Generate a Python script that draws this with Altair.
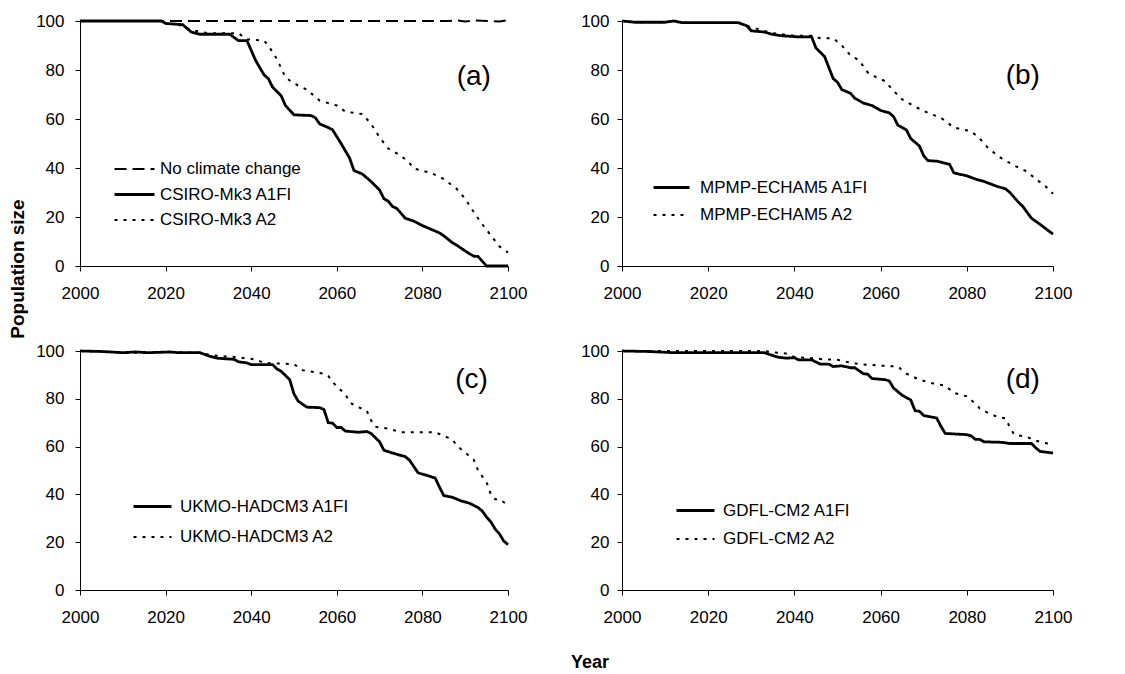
import altair as alt
import pandas as pd

FONT = "Liberation Sans"

X_TICKS = [2000, 2020, 2040, 2060, 2080, 2100]
Y_TICKS = [0, 20, 40, 60, 80, 100]

# ---------------- Panel (a) ----------------
a_none_years = [2000, 2020, 2040, 2060, 2080, 2086, 2088, 2090, 2092, 2096, 2098, 2100]
a_none_vals = [100, 100, 100, 100, 100, 100, 100.3, 99.8, 100.2, 99.9, 99.8, 100.3]

a_a1fi_years = [2000, 2019, 2020, 2024, 2026, 2028, 2035, 2037, 2039, 2041,
                2043, 2044, 2045, 2047, 2048, 2050, 2054, 2055, 2056, 2058,
                2059, 2061, 2063, 2064, 2066, 2068, 2070, 2071, 2072, 2073,
                2074, 2076, 2078, 2080, 2082, 2084, 2085, 2087, 2088, 2089,
                2091, 2092, 2093, 2095, 2100]
a_a1fi_vals = [100, 100, 99, 98.5, 95.5, 94.6, 94.6, 92, 92, 84,
               78, 76.5, 73, 69.5, 65.5, 61.7, 61.4, 60.5, 58, 56.5,
               55.6, 50, 44, 39, 37.5, 34.5, 31, 27.5, 26.5, 24.3,
               23.5, 19.5, 18.3, 16.5, 15, 13.5, 12.3, 9.5, 8.5, 7.3,
               5, 4, 3.9, 0, 0]

a_a2_years = [2000, 2019, 2020, 2023, 2025, 2027, 2030, 2037, 2039, 2043,
              2044, 2046, 2048, 2050, 2053, 2056, 2060, 2062, 2066, 2068,
              2070, 2072, 2075, 2077, 2078, 2082, 2085, 2088, 2090, 2092,
              2094, 2096, 2098, 2100]
a_a2_vals = [100, 100, 99, 98.5, 97, 96, 95, 95, 92.5, 92,
             90, 84.5, 77, 74.5, 72, 67.5, 65.5, 63, 62, 58,
             52.5, 48, 45, 42, 39.8, 38, 35.5, 31.5, 27.5, 22,
             17, 12.5, 8, 5.5]

# ---------------- Panel (b) ----------------
b_a1fi_years = [2000, 2003, 2010, 2012, 2014, 2027, 2029, 2030, 2033, 2035,
                2037, 2041, 2044, 2045, 2047, 2048, 2049, 2050, 2051, 2053,
                2054, 2056, 2058, 2060, 2062, 2063, 2064, 2066, 2067, 2069,
                2070, 2071, 2073, 2076, 2077, 2080, 2082, 2084, 2087, 2089,
                2090, 2092, 2093, 2095, 2097, 2100]
b_a1fi_vals = [100, 99.5, 99.5, 100, 99.3, 99.3, 98, 96, 95.5, 94.5,
               94, 93.5, 93.5, 89, 85.5, 81, 76.5, 75, 72, 70.5,
               68.5, 66.5, 65.5, 63.5, 62.5, 61, 57.5, 55.5, 52, 49,
               45, 43, 42.8, 41.5, 38, 36.8, 35.5, 34.5, 32.5, 31.5,
               30, 26, 24.3, 19.5, 17, 13]

b_a2_years = [2000, 2003, 2010, 2012, 2014, 2027, 2029, 2031, 2035, 2040,
              2044, 2046, 2049, 2051, 2053, 2055, 2057, 2059, 2061, 2063,
              2065, 2068, 2071, 2074, 2077, 2081, 2083, 2085, 2088, 2091,
              2094, 2096, 2098, 2100]
b_a2_vals = [100, 99.5, 99.5, 100, 99.3, 99.3, 98, 97, 95, 94,
             94, 93, 93, 90, 86, 84, 79, 77, 75.5, 71.5,
             68, 65, 62.5, 60.5, 56.5, 55, 52, 48, 44, 41,
             38.5, 35.5, 33, 29.5]

# ---------------- Panel (c) ----------------
c_a1fi_years = [2000, 2005, 2008, 2010, 2013, 2016, 2021, 2023, 2028, 2030,
                2032, 2036, 2037, 2039, 2040, 2045, 2046, 2047, 2049, 2050,
                2051, 2053, 2056, 2057, 2058, 2059, 2060, 2061, 2062, 2065,
                2067, 2068, 2070, 2071, 2073, 2076, 2077, 2079, 2081, 2083,
                2084, 2085, 2087, 2089, 2091, 2093, 2094, 2095, 2096, 2097,
                2098, 2099, 2100]
c_a1fi_vals = [100, 99.8, 99.5, 99.3, 99.6, 99.3, 99.6, 99.3, 99.3, 98,
               97, 96.5, 95.5, 95, 94.3, 94.3, 92.5, 91.5, 88, 82,
               79, 76.5, 76.3, 75.5, 70, 69.8, 68, 68, 66.5, 66,
               66.3, 65.5, 62, 58.5, 57.3, 55.8, 54.3, 49, 48, 46.8,
               43, 39.5, 38.8, 37.3, 36.3, 34.5, 33, 30.5, 28.5, 25.5,
               23.5, 20.5, 19]

c_a2_years = [2000, 2005, 2010, 2016, 2021, 2028, 2030, 2032, 2036, 2041,
              2043, 2050, 2052, 2057, 2058, 2060, 2062, 2063, 2065, 2067,
              2068, 2069, 2072, 2075, 2083, 2085, 2087, 2088, 2090, 2092,
              2093, 2095, 2096, 2097, 2098, 2100]
c_a2_vals = [100, 99.8, 99.3, 99.3, 99.6, 99.3, 98.5, 98, 97.5, 96.5,
             95, 94.5, 92, 90.5, 89.5, 85, 82, 78.5, 76.5, 75,
             71, 68.3, 67.5, 66, 66, 64.5, 63, 60.5, 57.5, 54.5,
             50, 45, 40, 38, 38, 35.5]

# ---------------- Panel (d) ----------------
d_a1fi_years = [2000, 2006, 2012, 2033, 2034, 2036, 2038, 2040, 2041, 2044,
                2046, 2048, 2049, 2051, 2053, 2054, 2056, 2057, 2058, 2061,
                2062, 2063, 2065, 2066, 2067, 2068, 2069, 2070, 2072, 2073,
                2074, 2075, 2080, 2081, 2082, 2083, 2084, 2088, 2090, 2095,
                2096, 2097, 2100]
d_a1fi_vals = [100, 99.8, 99.3, 99.3, 98.7, 97.5, 97, 97.2, 96.3, 96.3,
               94.5, 94.5, 93.5, 93.8, 93, 93, 90.5, 90.3, 88.5, 88,
               87.5, 84.5, 81.5, 80.5, 79.5, 75, 74.8, 73, 72.3, 72,
               68.5, 65.5, 65, 64.5, 63, 63, 62, 61.8, 61.3, 61.3,
               59.5, 58, 57.3]

d_a2_years = [2000, 2012, 2033, 2035, 2038, 2040, 2044, 2047, 2050, 2052,
              2055, 2059, 2064, 2066, 2069, 2072, 2075, 2077, 2080, 2082,
              2083, 2085, 2087, 2089, 2090, 2091, 2094, 2096, 2098, 2100]
d_a2_vals = [100, 100, 100, 99.5, 99, 97.5, 97, 96.5, 96.3, 95.5,
             94.5, 94, 93.5, 90.5, 88, 86.5, 85.5, 82.5, 81, 78,
             76, 74, 72.5, 71.8, 68, 65, 64, 62.5, 61.5, 61]

DASH = {"dashed": [12, 6], "solid": [1, 0], "dotted": [3, 6]}
WIDTH = {"dashed": 2, "solid": 2.8, "dotted": 2}

W_LEFT, W_RIGHT = 428, 431
H_TOP, H_BOT = 245, 239


def panel(series, label, label_pos, width, height, leg_x, leg_y, sym_size,
          sym_type, row_pad, lab_off, y_pad, extra_texts=()):
    rows = []
    names = [s[0] for s in series]
    styles = [s[1] for s in series]
    for name, style, years, vals in series:
        for i, (yr, v) in enumerate(zip(years, vals)):
            rows.append({"series": name, "Year": yr, "Pop": v, "order": i})
    df = pd.DataFrame(rows)

    legend = alt.Legend(
        title=None, orient="none", legendX=leg_x, legendY=leg_y,
        symbolType=sym_type, symbolSize=sym_size,
        symbolStrokeColor="black", labelFont=FONT, labelFontSize=17,
        labelColor="black", rowPadding=row_pad, labelOffset=lab_off,
        padding=0, labelLimit=400,
    )
    x_enc = alt.X("Year:Q", scale=alt.Scale(domain=[2000, 2100], nice=False),
                  axis=alt.Axis(values=X_TICKS, format="d", title=None,
                                labelPadding=14, labelFlush=False,
                                labelOverlap=False))
    y_enc = alt.Y("Pop:Q", scale=alt.Scale(domain=[0, 100], nice=False),
                  axis=alt.Axis(values=Y_TICKS, title=None, labelPadding=y_pad,
                                labelFlush=False, labelOverlap=False))

    lines = alt.Chart(df).mark_line(color="black", strokeCap="butt").encode(
        x=x_enc,
        y=y_enc,
        order="order:Q",
        strokeDash=alt.StrokeDash(
            "series:N", sort=names,
            scale=alt.Scale(type="ordinal", domain=names,
                            range=[DASH[s] for s in styles]),
            legend=legend),
        strokeWidth=alt.StrokeWidth(
            "series:N", sort=names,
            scale=alt.Scale(type="ordinal", domain=names,
                            range=[WIDTH[s] for s in styles]),
            legend=legend),
    )

    lab_df = pd.DataFrame({"Year": [label_pos[0]], "Pop": [label_pos[1]],
                           "t": [label]})
    lab = alt.Chart(lab_df).mark_text(
        font=FONT, fontSize=28, color="black", align="center",
        baseline="middle").encode(x="Year:Q", y="Pop:Q", text="t:N")

    layers = [lines, lab]
    for txt, px, py, ang, fs in extra_texts:
        t_df = pd.DataFrame({"t": [txt]})
        kw = dict(font=FONT, fontSize=fs, fontWeight="bold", color="black",
                  align="center", baseline="middle")
        if ang:
            kw["angle"] = ang
        layers.append(alt.Chart(t_df).mark_text(**kw).encode(
            x=alt.value(px), y=alt.value(py), text="t:N"))
    return alt.layer(*layers).properties(width=width, height=height)


pa = panel(
    [("No climate change", "dashed", a_none_years, a_none_vals),
     ("CSIRO-Mk3 A1FI", "solid", a_a1fi_years, a_a1fi_vals),
     ("CSIRO-Mk3 A2", "dotted", a_a2_years, a_a2_vals)],
    "(a)", (2092, 77), W_LEFT, H_TOP, 43, 137, 400, "M-2,0H2", 6, 14, 11,
    extra_texts=[("Population size", -62, 248, 270, 19)])

pb = panel(
    [("MPMP-ECHAM5 A1FI", "solid", b_a1fi_years, b_a1fi_vals),
     ("MPMP-ECHAM5 A2", "dotted", b_a2_years, b_a2_vals)],
    "(b)", (2093, 77.5), W_RIGHT, H_TOP, 30, 147, 36 * 36, "stroke", 0, 9, 8)

pc = panel(
    [("UKMO-HADCM3 A1FI", "solid", c_a1fi_years, c_a1fi_vals),
     ("UKMO-HADCM3 A2", "dotted", c_a2_years, c_a2_vals)],
    "(c)", (2091.5, 88), W_LEFT, H_BOT, 52, 135, 38 * 38, "stroke", 2, 7, 11,
    extra_texts=[("Year", 510, 312, 0, 18)])

pd_ = panel(
    [("GDFL-CM2 A1FI", "solid", d_a1fi_years, d_a1fi_vals),
     ("GDFL-CM2 A2", "dotted", d_a2_years, d_a2_vals)],
    "(d)", (2093, 88), W_RIGHT, H_BOT, 53, 139, 38 * 38, "stroke", 0, 7, 8)

chart = alt.concat(
    pa, pb, pc, pd_, columns=2,
    spacing={"row": 85, "column": 114}, bounds="flush",
).resolve_scale(
    strokeDash="independent", strokeWidth="independent",
    x="independent", y="independent",
).resolve_legend(
    strokeDash="independent", strokeWidth="independent",
).properties(
    padding={"left": 1, "top": 4, "right": 5, "bottom": 5},
    background="white",
).configure_view(
    stroke=None,
).configure_axis(
    grid=False, domainColor="black", domainWidth=1, tickColor="black",
    tickSize=5, tickWidth=1, labelFont=FONT, labelFontSize=17,
    labelColor="black",
)

chart.save("out.html", embed_options={"renderer": "svg", "actions": False})
